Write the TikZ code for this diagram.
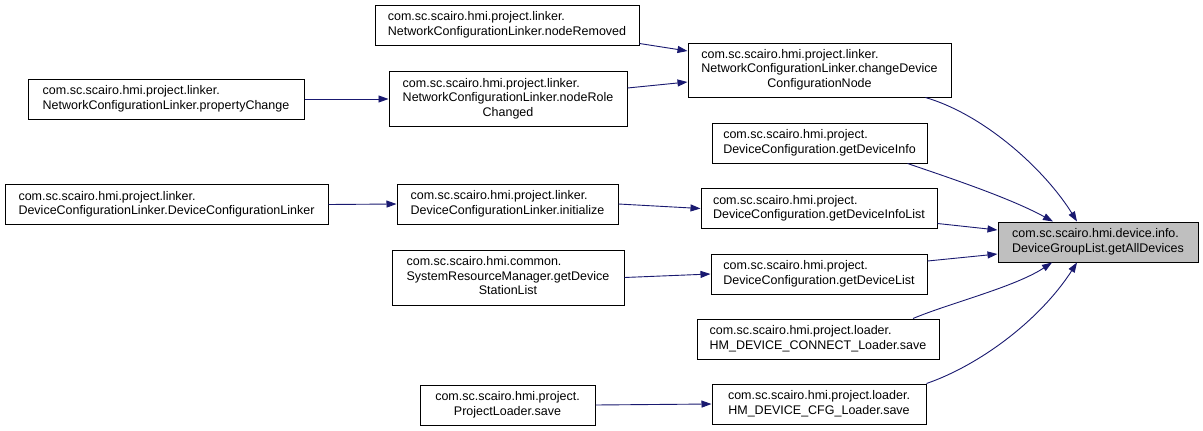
\documentclass[tikz,border=0pt]{standalone}
\usepackage{fontspec}
\setmainfont{Liberation Sans}
\usetikzlibrary{arrows.meta}
\definecolor{edgeblue}{RGB}{25,25,112}
\definecolor{graynode}{RGB}{191,191,191}
\newcommand\twol[2]{\begin{tabular}{@{}l@{}}#1\\\multicolumn{1}{@{}c@{}}{#2}\end{tabular}}
\newcommand\threel[3]{\begin{tabular}{@{}l@{}}#1\\#2\\\multicolumn{1}{@{}c@{}}{#3}\end{tabular}}
\begin{document}
\begin{tikzpicture}[x=1pt,y=-1pt,
  box/.style={draw=black, line width=1pt, fill=white, inner sep=0pt, font=\fontsize{12.5}{14.5}\selectfont},
  focus/.style={box, fill=graynode},
  edge/.style={draw=edgeblue, line width=0.9pt, -{Triangle[length=10pt,width=7pt]}}]
\useasboundingbox[fill=white] (0,0) rectangle (1203,431);
% nodes
\node[box, minimum width=264pt, minimum height=40pt] (n1) at (507,25) {\twol{com.sc.scairo.hmi.project.linker.}{NetworkConfigurationLinker.nodeRemoved}};
\node[box, minimum width=263pt, minimum height=54pt] (n2) at (819.5,70) {\threel{com.sc.scairo.hmi.project.linker.}{NetworkConfigurationLinker.changeDevice}{ConfigurationNode}};
\node[box, minimum width=276pt, minimum height=40pt] (n3) at (166,99) {\twol{com.sc.scairo.hmi.project.linker.}{NetworkConfigurationLinker.propertyChange}};
\node[box, minimum width=238pt, minimum height=55pt] (n4) at (508,99) {\threel{com.sc.scairo.hmi.project.linker.}{NetworkConfigurationLinker.nodeRole}{Changed}};
\node[box, minimum width=215pt, minimum height=40pt] (n5) at (819.5,143) {\twol{com.sc.scairo.hmi.project.}{DeviceConfiguration.getDeviceInfo}};
\node[box, minimum width=323pt, minimum height=40pt] (n6) at (166.5,204.5) {\twol{com.sc.scairo.hmi.project.linker.}{DeviceConfigurationLinker.DeviceConfigurationLinker}};
\node[box, minimum width=221pt, minimum height=40pt] (n7) at (507.5,204) {\twol{com.sc.scairo.hmi.project.linker.}{DeviceConfigurationLinker.initialize}};
\node[box, minimum width=236pt, minimum height=40pt] (n8) at (819,208.5) {\twol{com.sc.scairo.hmi.project.}{DeviceConfiguration.getDeviceInfoList}};
\node[focus, minimum width=200pt, minimum height=40pt] (n9) at (1098,242) {\twol{com.sc.scairo.hmi.device.info.}{DeviceGroupList.getAllDevices}};
\node[box, minimum width=232pt, minimum height=55pt] (n10) at (508,277.5) {\threel{com.sc.scairo.hmi.common.}{SystemResourceManager.getDevice}{StationList}};
\node[box, minimum width=216pt, minimum height=40pt] (n11) at (819,274) {\twol{com.sc.scairo.hmi.project.}{DeviceConfiguration.getDeviceList}};
\node[box, minimum width=242pt, minimum height=40pt] (n12) at (818,339) {\twol{com.sc.scairo.hmi.project.loader.}{HM\_DEVICE\_CONNECT\_Loader.save}};
\node[box, minimum width=175pt, minimum height=40pt] (n13) at (507.5,405) {\twol{com.sc.scairo.hmi.project.}{ProjectLoader.save}};
\node[box, minimum width=214pt, minimum height=40pt] (n14) at (819,404) {\twol{com.sc.scairo.hmi.project.loader.}{HM\_DEVICE\_CFG\_Loader.save}};
% edges
\draw[edge] ([yshift=2pt]n1.south east) -- ([yshift=19pt]n2.west);
\draw[edge] ([yshift=11pt]n4.east) -- ([yshift=-12pt]n2.west);
\draw[edge] (n3.east) -- (n4.west);
\draw[edge] (n6.east) -- (n7.west);
\draw[edge] (n7.east) -- (n8.west);
\draw[edge] (n10.east) -- (n11.west);
\draw[edge] (n13.east) -- (n14.west);
\draw[edge] ([xshift=-26pt]n2.south east) .. controls (985,115) and (1045,170) .. ([xshift=-21pt]n9.north);
\draw[edge] ([xshift=-20pt]n5.south east) .. controls (950,178) and (1010,198) .. ([xshift=-45pt]n9.north);
\draw[edge] ([yshift=-15pt]n8.east) -- ([yshift=12pt]n9.west);
\draw[edge] ([yshift=13pt]n11.east) -- ([yshift=-12pt]n9.west);
\draw[edge] ([xshift=95pt]n12.north) .. controls (950,303) and (1015,287) .. ([xshift=-46pt]n9.south);
\draw[edge] (n14.north east) .. controls (980,365) and (1040,320) .. ([xshift=-21pt]n9.south);
\end{tikzpicture}
\end{document}
